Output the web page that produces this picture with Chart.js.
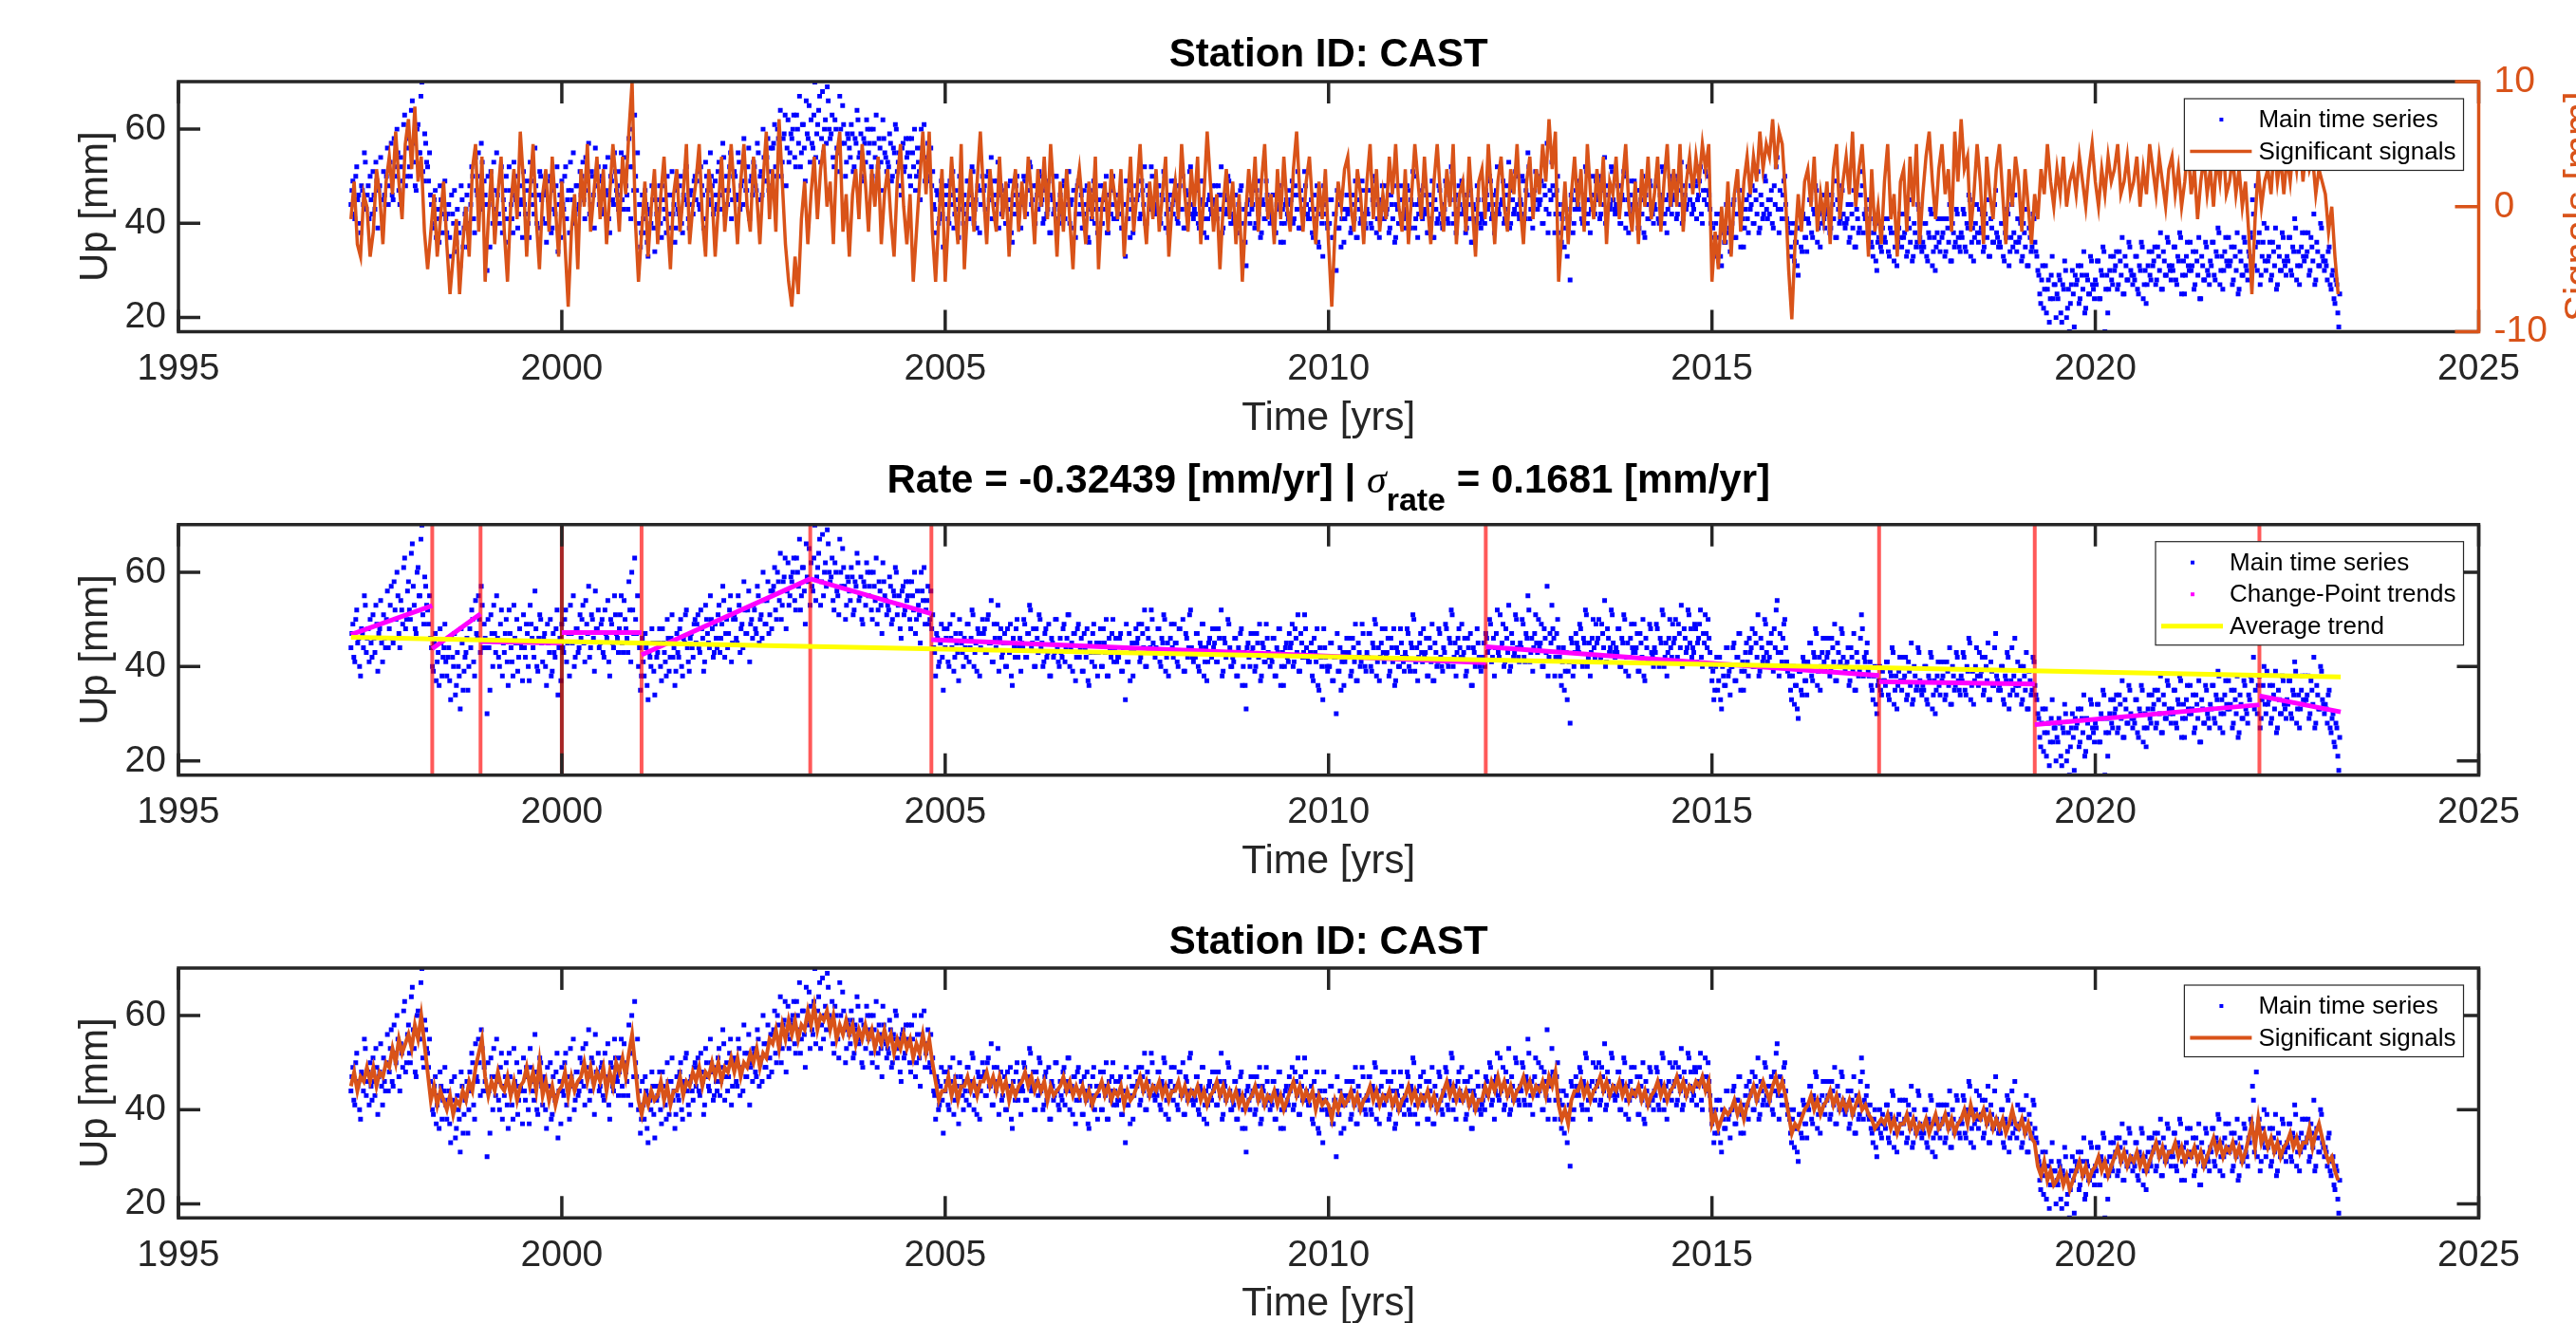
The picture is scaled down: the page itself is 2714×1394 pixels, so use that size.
<!DOCTYPE html>
<html>
<head>
<meta charset="utf-8">
<script src="https://cdn.jsdelivr.net/npm/chart.js@4.4.1/dist/chart.umd.min.js"></script>
<style>
html, body { margin: 0; padding: 0; background: #fff; overflow: hidden; }
canvas { position: absolute; left: 0; }
</style>
</head>
<body>
<canvas id="top" width="2714" height="470" style="top:0px"></canvas>
<canvas id="mid" width="2714" height="470" style="top:470px"></canvas>
<canvas id="bot" width="2714" height="454" style="top:940px"></canvas>
<script>
// ---- data ----
var xTicks = [1995, 2000, 2005, 2010, 2015, 2020, 2025];
var upTicks = [20, 40, 60];
var sigTicks = [-10, 0, 10];

// Up component, two interleaved sample sets of 40 per year starting 1997.25
var upStart = 1997.25, upStep = 0.025;
var upValues = [
  // 1997 (Q2-Q4)
  44,49,41,52,46,38,47,55,43,48, 50,42,46,53,39,48,45,51,44,56, 48,57,45,52,60,47,54,49,63,50,
  // 1998
  58,50,66,53,47,61,55,70,49,57, 52,55,44,39,47,41,36,45,42,49, 38,44,33,42,47,36,40,31,45,39, 43,35,48,52,41,54,46,50,57,44,
  // 1999
  46,30,44,51,40,47,55,42,49,38, 43,50,36,47,41,53,45,39,48,44, 51,42,47,37,49,44,56,40,46,50, 41,47,36,45,50,39,43,48,34,46,
  // 2000
  49,43,52,45,38,47,55,42,48,44, 46,53,41,49,57,44,50,39,48,52, 45,50,42,47,54,38,49,44,51,46, 48,55,43,50,46,58,41,52,63,47,
  // 2001
  40,35,46,38,44,33,42,48,39,45, 43,48,37,45,41,50,39,46,42,36, 47,42,50,38,45,52,41,46,44,49, 45,51,43,48,39,53,47,44,50,42,
  // 2002
  49,44,53,46,57,42,50,47,55,45, 51,46,55,43,49,58,47,52,41,50, 53,48,57,45,51,60,49,54,47,56, 56,61,50,58,64,53,59,48,62,55,
  // 2003
  58,63,52,60,67,55,61,49,59,65, 62,56,70,59,64,53,68,60,57,66, 58,63,52,60,55,67,57,61,50,59, 56,61,51,58,64,54,59,49,57,62,
  // 2004
  55,60,50,57,63,52,56,47,58,54, 53,59,49,56,61,51,55,46,57,52, 54,58,48,55,60,50,53,45,56,61, 52,57,50,48,44,38,46,41,49,35,
  // 2005
  44,48,40,46,51,42,45,37,47,43, 46,42,49,44,52,40,45,48,38,47, 47,43,50,45,54,41,46,49,39,48, 43,47,40,45,49,36,44,48,42,46,
  // 2006
  45,50,42,47,53,44,48,40,46,51, 44,40,47,42,49,38,45,43,50,41, 46,42,49,44,51,40,45,47,37,48, 42,46,39,44,48,36,43,47,40,45,
  // 2007
  43,48,40,45,50,38,44,47,41,46, 42,46,39,44,33,41,47,43,38,45, 45,49,42,47,52,40,46,44,50,43, 44,48,41,46,51,39,45,43,49,42,
  // 2008
  45,41,48,43,50,39,46,44,52,42, 43,47,40,45,49,38,44,41,46,42, 44,48,41,46,52,39,45,43,49,40, 42,46,38,44,47,36,43,31,45,40,
  // 2009
  43,47,40,45,49,38,44,41,46,42, 42,46,38,44,48,36,43,40,45,41, 44,49,41,46,51,39,45,43,48,42, 41,45,37,43,48,35,42,33,44,40,
  // 2010
  40,45,37,42,30,39,44,41,36,43, 42,46,39,44,49,37,43,41,47,40, 43,47,40,45,50,38,44,42,48,41, 42,46,39,44,48,37,43,40,45,41,
  // 2011
  43,48,40,45,51,39,44,42,47,41, 42,46,38,44,49,37,43,41,47,40, 44,49,41,46,52,40,45,43,48,42, 42,46,39,44,47,36,43,41,45,40,
  // 2012
  41,45,47,43,50,41,46,44,52,42, 44,49,41,46,53,40,45,43,50,42, 45,50,42,47,55,41,46,44,51,43, 44,49,40,46,57,42,45,48,38,47,
  // 2013
  44,38,41,35,43,39,28,45,40,47, 44,49,41,46,52,40,45,43,50,42, 45,50,42,47,54,41,46,44,51,43, 44,48,40,46,51,39,45,42,49,43,
  // 2014
  43,47,39,45,50,37,44,41,48,42, 44,49,41,46,52,40,45,43,50,42, 45,50,42,47,53,41,46,44,51,48, 44,49,41,46,52,40,45,47,50,43,
  // 2015
  37,33,40,35,42,31,38,36,44,39, 40,44,37,42,47,35,41,39,45,38, 43,48,40,45,51,39,44,42,49,41, 42,47,39,44,54,38,43,46,50,41,
  // 2016
  40,35,38,32,36,29,39,34,41,37, 41,45,38,43,48,36,42,40,46,39, 42,46,39,44,49,37,43,41,47,40, 40,44,37,42,47,35,41,39,51,38,
  // 2017
  41,45,38,36,33,40,30,37,35,39, 37,41,34,39,44,32,38,36,42,35, 37,42,34,39,45,33,38,36,43,35, 36,40,33,38,43,31,37,35,41,34,
  // 2018
  37,41,34,39,44,32,38,36,42,35, 38,43,35,40,46,33,39,37,44,36, 38,42,35,40,45,33,39,36,47,37, 36,40,33,38,43,31,37,35,46,34,
  // 2019
  36,40,33,38,43,31,37,35,41,34, 30,25,28,22,31,26,19,29,24,27, 25,29,21,27,32,20,26,23,30,18, 27,31,24,29,34,22,28,25,32,26,
  // 2020
  28,32,24,30,35,17,29,26,33,27, 30,34,27,32,37,25,31,28,35,29, 29,33,26,31,36,24,30,27,34,28, 31,35,28,33,38,26,32,29,36,30,
  // 2021
  31,35,28,33,38,25,32,29,36,30, 30,34,27,32,37,24,31,28,35,29, 32,36,29,34,39,27,33,30,37,31, 31,35,28,33,38,26,32,29,36,30,
  // 2022
  34,38,45,31,48,36,27,33,40,30, 32,36,29,34,39,27,33,30,37,31, 33,37,30,35,41,28,34,31,38,32, 33,38,30,35,42,28,34,31,39,32,
  // 2023
  32,28,35,26,30,23,27,18
];
var upStartB = 1997.2625;
var upValuesB = [
  // 1997
  47,42,50,45,40,48,44,53,46,41, 45,51,43,49,47,54,41,46,50,44, 53,46,58,50,55,44,52,61,48,56,
  // 1998
  52,64,57,48,60,55,67,51,59,53, 49,46,40,45,37,43,48,38,44,41, 42,37,46,40,34,43,38,48,35,42, 46,40,44,50,38,47,55,43,53,49,
  // 1999
  44,50,35,47,53,43,46,40,52,45, 47,41,52,44,38,46,50,42,45,37, 44,49,40,53,46,42,48,39,51,45, 46,40,49,43,38,47,42,52,44,37,
  // 2000
  44,50,41,47,53,45,40,48,43,51, 50,45,54,47,42,51,46,56,48,44, 49,43,52,46,41,50,45,55,47,43, 51,45,54,48,43,52,60,47,50,55,
  // 2001
  44,38,41,47,36,43,40,45,34,42, 45,40,48,43,38,46,42,51,44,39, 43,48,40,46,51,44,39,47,42,50, 49,44,52,46,41,50,45,55,48,43,
  // 2002
  46,51,43,49,54,47,44,52,41,50, 50,45,53,48,44,52,47,56,49,46, 52,47,55,50,46,54,49,58,51,48, 57,52,60,54,50,58,63,56,53,59,
  // 2003
  60,54,63,57,52,61,56,66,58,53, 57,63,54,61,67,58,55,62,69,60, 59,54,62,56,51,60,65,57,53,58, 54,59,52,57,62,55,50,58,53,60,
  // 2004
  57,52,60,54,49,58,53,62,55,51, 52,57,50,55,60,53,48,56,51,58, 55,50,58,52,47,56,51,60,54,49, 54,49,56,51,43,47,40,45,42,48,
  // 2005
  46,41,49,44,39,47,43,50,45,40, 44,49,41,46,51,43,39,47,44,50, 48,43,51,45,41,49,44,53,46,42, 45,40,48,43,38,46,42,50,44,39,
  // 2006
  44,49,42,47,52,45,40,48,43,50, 45,41,48,43,38,46,42,50,44,40, 43,48,41,46,51,44,39,47,42,49, 44,39,47,42,37,45,41,49,43,38,
  // 2007
  45,40,48,43,38,46,42,50,44,41, 42,47,39,44,49,41,37,45,43,48, 46,41,49,44,40,48,43,52,45,42, 43,48,40,45,50,42,38,46,44,49,
  // 2008
  45,40,48,43,39,47,42,51,44,41, 42,47,39,44,49,41,37,45,43,48, 45,41,48,43,38,46,42,50,44,40, 41,46,38,43,48,40,36,44,42,47,
  // 2009
  44,39,47,42,37,45,41,49,43,40, 41,46,38,43,48,40,36,44,42,47, 45,40,48,43,39,47,42,51,44,41, 43,38,46,41,36,44,40,48,42,39,
  // 2010
  40,45,37,42,47,39,35,43,41,46, 43,38,46,41,37,45,40,49,42,39, 42,47,39,44,49,41,37,45,43,48, 43,38,46,41,36,44,40,48,42,39,
  // 2011
  42,47,39,44,50,41,37,45,43,48, 43,38,46,41,37,45,40,48,42,39, 43,48,40,45,51,42,38,46,44,49, 43,38,46,41,36,44,40,48,42,39,
  // 2012
  42,40,46,44,49,42,38,47,43,51, 45,40,48,43,39,47,42,51,44,41, 44,49,41,46,52,43,39,47,45,50, 45,40,48,43,38,47,53,46,42,50,
  // 2013
  42,36,44,39,33,41,46,38,43,45, 43,48,40,45,51,42,38,46,44,49, 46,41,49,44,40,48,43,52,45,42, 43,48,40,45,50,42,38,46,44,49,
  // 2014
  44,39,47,42,38,46,41,49,43,40, 43,48,40,45,51,42,38,46,44,49, 46,41,49,44,40,48,43,52,45,42, 43,48,45,49,42,47,51,44,46,40,
  // 2015
  39,35,42,37,33,40,36,44,38,34, 40,45,37,42,47,39,35,43,41,46, 44,40,47,42,38,46,41,50,43,45, 45,40,48,52,43,47,41,49,44,39,
  // 2016
  38,33,40,36,31,39,35,42,37,34, 40,45,37,42,47,39,35,43,41,46, 43,38,46,41,37,45,40,48,42,39, 41,36,44,39,35,43,38,46,48,42,
  // 2017
  43,39,41,35,38,32,36,40,34,37, 36,41,33,38,43,35,31,39,37,42, 38,33,41,36,32,40,35,44,37,34, 35,40,32,37,42,34,30,38,36,41,
  // 2018
  38,33,41,36,32,40,35,43,37,34, 37,42,34,39,45,36,32,40,38,43, 39,34,42,37,33,41,36,44,38,35, 35,40,32,37,42,34,44,38,36,41,
  // 2019
  37,32,40,35,31,39,34,42,36,33, 29,23,31,26,21,28,24,33,27,20, 24,28,19,26,30,22,17,27,25,29, 28,23,31,26,21,29,25,33,27,24,
  // 2020
  27,32,24,29,34,26,21,30,28,33, 31,26,34,29,25,33,28,36,30,27, 28,33,25,30,35,27,23,31,29,34, 32,27,35,30,26,34,29,37,31,28,
  // 2021
  30,35,27,32,37,29,25,33,31,36, 31,26,34,29,24,33,28,36,30,27, 31,36,28,33,38,30,26,34,32,37, 32,27,35,30,25,34,29,37,31,28,
  // 2022
  33,37,42,35,30,38,29,36,32,39, 33,28,36,31,26,35,30,38,32,29, 32,37,29,34,39,31,27,35,33,38, 34,29,37,32,27,36,31,40,33,30,
  // 2023
  31,34,27,29,24,28,21,25
];

// significant signals (right axis) and bottom fitted signal, 24 samples per year from 1997.25
var sigStart = 1997.25, sigStep = 1 / 24;
var signalValues = [
  -1,2,-3,-4,1,0, -4,-2,3,1,-3,2, 4,1,6,2,-1,5,
  7,3,8,2,4,-2, -5,-2,1,-4,-1,2, -3,-7,-4,-1,-7,-3, 0,-4,3,5,-2,4,
  -6,-1,3,-3,1,4, -2,-6,0,3,-1,6, 2,-4,1,5,-1,-5, 1,3,-2,4,0,-4,
  2,-3,-8,-2,1,-5, 3,0,5,-2,1,4, -1,3,-3,1,5,2, -2,4,1,6,10,-1,
  -6,-2,2,-4,0,3, -3,1,4,-1,-5,1, 3,-2,1,5,-3,0, 2,5,-1,-4,3,1,
  -4,0,4,-2,1,5, 1,-3,2,5,0,-2, 4,1,-3,2,6,-1, 3,-2,7,2,-3,-6,
  -8,-4,-7,-1,2,-3, 1,4,-1,3,5,0, 2,-3,4,6,-2,1, -4,1,3,-1,5,2,
  -2,3,0,4,-3,1, 3,-1,-4,2,5,0, -3,1,-6,-2,2,6, 1,6,-2,-6,-1,3,
  -6,-1,4,0,-3,5, -5,0,3,-2,2,6, 1,-3,3,0,-2,4, -1,2,-4,1,3,-2,
  2,-1,4,1,-3,3, 0,4,-1,5,1,-4, 2,-2,3,-1,-5,1, 3,0,-3,2,-1,4,
  -5,0,2,-2,3,1, -1,3,-4,0,4,-2, 1,5,0,-3,2,-1, 3,-2,1,4,-4,0,
  2,-1,5,1,-2,3, 0,4,-3,1,6,2, -2,1,-5,0,3,-1, 2,-3,1,-6,-1,3,
  0,4,-2,2,5,-1, 1,-3,3,-1,4,0, -2,3,6,1,-2,2, 4,0,-3,2,-1,3,
  -3,-8,-2,2,0,3, 4,0,-2,3,1,-3, 2,5,-1,3,-2,1, -1,4,1,5,0,-2,
  3,-3,1,5,2,-1, 4,0,-3,2,5,1, -2,3,0,5,-3,1, 2,-2,4,0,-4,2,
  3,-1,5,1,-3,2, 4,0,-2,3,1,5, 0,-3,2,4,-1,3, 1,5,2,7,3,6,
  -6,-2,2,-3,1,4, 0,3,-2,5,1,-1, 3,0,4,-3,2,1, 4,-1,2,5,0,-2,
  2,-3,3,0,4,-1, 1,4,-2,2,5,0, 3,0,5,-2,2,4, 1,4,2,5,3,5,
  -6,-2,-5,0,-3,2, -4,1,3,-2,2,4, 1,4,2,6,3,5, 4,7,3,6,5,1,
  -5,-9,-3,1,-2,2, 3,0,4,-2,1,-1, 2,-3,3,5,-1,2, 4,1,6,0,3,5,
  1,-4,3,-2,0,-3, 2,5,-1,1,-4,2, 3,-2,4,0,5,-3, 1,4,6,2,-1,3,
  5,1,3,-2,6,2, 7,3,4,-2,1,5, 2,-3,4,1,-1,3, 5,1,-3,3,0,4,
  2,-2,3,0,-3,1, -1,3,1,5,2,0, 3,1,4,0,2,3, 1,4,2,0,3,5,
  2,0,3,1,4,2, 3,5,1,2,4,1, 2,4,0,3,1,5, 3,1,4,2,0,3,
  4,1,3,0,2,5, 1,3,-1,2,4,1, 3,0,4,2,5,1, 2,4,1,3,0,2,
  -2,-7,-1,3,0,2, 3,1,5,2,4,1, 4,2,5,3,6,2, 5,3,4,1,3,2,
  1,-2,0,-4,-7
];
var fitValues = [
  45,48,44,47,46,49, 46,49,45,48,47,50, 49,53,50,55,52,54,
  56,53,58,55,60,54, 48,42,45,41,44,42, 40,43,39,42,41,44, 42,46,44,49,52,55,
  47,43,46,44,48,45, 44,47,43,46,42,45, 46,49,45,48,44,50, 43,46,42,45,41,44,
  45,48,43,47,44,46, 47,50,46,49,45,48, 46,49,44,48,45,50, 48,51,47,52,56,49,
  42,39,43,41,44,42, 43,46,42,45,41,44, 44,47,43,46,45,48, 46,49,45,48,47,50,
  47,50,46,49,48,51, 48,51,47,50,49,52, 50,53,49,52,51,55, 54,57,53,58,55,59,
  56,59,55,58,57,61, 58,62,57,60,59,61, 57,60,55,58,56,59, 56,58,54,57,55,58,
  55,57,53,56,54,57, 54,56,52,55,53,56, 53,55,51,54,52,56, 52,55,50,46,42,44,
  44,47,43,46,42,45, 45,47,44,46,43,46, 46,48,45,47,44,47, 44,46,42,45,43,45,
  46,48,45,47,44,46, 44,46,42,45,43,44, 45,47,44,46,43,45, 43,45,42,44,41,43,
  44,46,43,45,42,44, 43,45,41,44,42,43, 45,47,44,46,43,45, 44,46,43,45,42,44,
  44,46,43,45,42,44, 43,45,42,44,41,43, 44,46,43,45,42,44, 42,44,41,43,40,42,
  43,45,42,44,41,43, 42,44,41,43,40,42, 44,46,43,45,42,44, 42,44,40,43,41,42,
  41,38,42,40,43,41, 42,44,41,43,40,42, 43,45,42,44,41,43, 42,44,41,43,40,42,
  43,45,42,44,41,43, 42,44,41,43,40,42, 44,46,43,45,42,44, 42,44,41,43,40,42,
  42,45,43,46,44,47, 44,46,43,45,42,44, 45,47,44,46,43,45, 44,46,43,47,45,48,
  41,38,40,37,42,44, 44,46,43,45,42,44, 45,47,44,46,43,45, 44,46,43,45,42,44,
  43,45,42,44,41,43, 44,46,43,45,42,44, 45,47,44,46,43,45, 44,46,45,47,44,46,
  37,39,36,38,40,39, 40,42,39,41,38,41, 43,45,42,44,46,44, 42,45,47,44,46,43,
  39,35,37,36,38,40, 41,43,40,42,39,41, 42,44,41,43,40,42, 40,42,39,41,43,40,
  41,39,38,36,37,38, 37,39,36,38,35,37, 37,39,36,38,35,37, 36,38,35,37,39,36,
  37,39,36,38,35,37, 38,40,37,41,38,39, 38,40,37,39,36,38, 36,38,35,37,40,37,
  36,38,35,37,34,33, 28,26,29,25,27,24, 25,27,24,26,23,25, 27,29,26,28,25,27,
  28,30,27,29,26,28, 30,32,29,31,28,30, 29,31,28,30,27,29, 31,33,30,32,29,31,
  31,33,30,32,29,31, 30,32,29,31,28,30, 32,34,31,33,30,32, 31,33,30,32,29,31,
  34,37,32,38,33,35, 32,34,31,33,30,32, 33,35,32,34,31,33, 33,36,32,35,37,34,
  31,29,30,27,25
];

// change-point model (middle panel)
var breakYears = [1998.31, 1998.94, 2001.04, 2003.24, 2004.82, 2012.05, 2017.18, 2019.21, 2022.14];
var knownBreakYears = [2000.0];
var cpBounds = [1997.25, 1998.31, 1998.94, 2000.0, 2001.04, 2003.24, 2004.82, 2012.05, 2017.18, 2019.21, 2022.14, 2023.2];
var cpFrom = [46.8, 43.8, 45.3, 47.2, 42.5, 58.6, 45.7, 44.2, 36.8, 27.7, 33.8];
var cpTo   = [52.9, 51.2, 45.0, 47.2, 58.6, 51.2, 40.8, 38.1, 36.3, 31.9, 30.4];
var avgYears = [1997.25, 2023.2];
var avgValues = [46.2, 37.8];

var upMin = 17, upMax = 70.1;

// ---- helpers ----
var BLUE = '#0000ff', ORANGE = '#d95319', DARK = '#262626';
var FONT = '"Liberation Sans", Arial, Helvetica, sans-serif';
Chart.defaults.font.family = FONT;

function series(start, step, vals) {
  return vals.map(function (v, i) { return { x: start + i * step, y: v }; });
}
function vlines(years) {
  var d = [];
  years.forEach(function (yr) {
    d.push({ x: yr, y: upMin }, { x: yr, y: upMax }, { x: yr, y: null });
  });
  return d;
}
function cpSegments() {
  var d = [];
  for (var i = 0; i < cpFrom.length; i++) {
    d.push({ x: cpBounds[i], y: cpFrom[i] }, { x: cpBounds[i + 1], y: cpTo[i] }, { x: cpBounds[i + 1], y: null });
  }
  return d;
}

var boldT = 'bold 42px ' + FONT;
var decor = {
  top: { title: [{ text: 'Station ID: CAST', font: boldT }], titleY: 70, rightLabel: 'Signals [mm]' },
  mid: {
    title: [
      { text: 'Rate = -0.32439 [mm/yr] | ', font: boldT },
      { text: '\u03c3', font: 'italic 42px "Liberation Serif", serif' },
      { text: 'rate', font: 'bold 34px ' + FONT, dy: 19 },
      { text: ' = 0.1681 [mm/yr]', font: boldT }
    ], titleY: 49
  },
  bot: { title: [{ text: 'Station ID: CAST', font: boldT }], titleY: 65 }
};

var matlabPlugin = {
  id: 'matlab',
  afterDraw: function (chart) {
    var d = decor[chart.canvas.id];
    var ctx = chart.ctx, a = chart.chartArea;
    var sx = chart.scales.x, sy = chart.scales.y, sr = chart.scales.y1;
    var tl = 23;
    ctx.save();
    ctx.lineWidth = 3.5;
    ctx.strokeStyle = DARK;
    ctx.beginPath();
    sx.ticks.forEach(function (t) {
      var p = sx.getPixelForValue(t.value);
      ctx.moveTo(p, a.bottom); ctx.lineTo(p, a.bottom - tl);
      ctx.moveTo(p, a.top); ctx.lineTo(p, a.top + tl);
    });
    sy.ticks.forEach(function (t) {
      var p = sy.getPixelForValue(t.value);
      ctx.moveTo(a.left, p); ctx.lineTo(a.left + tl, p);
      if (!sr) { ctx.moveTo(a.right, p); ctx.lineTo(a.right - tl, p); }
    });
    ctx.stroke();

    ctx.lineJoin = 'miter';
    ctx.beginPath();
    if (sr) {
      ctx.moveTo(a.right, a.top); ctx.lineTo(a.left, a.top);
      ctx.lineTo(a.left, a.bottom); ctx.lineTo(a.right, a.bottom);
    } else {
      ctx.rect(a.left, a.top, a.right - a.left, a.bottom - a.top);
    }
    ctx.stroke();

    if (sr) {
      ctx.strokeStyle = ORANGE;
      ctx.beginPath();
      ctx.moveTo(a.right, a.top - 1.75); ctx.lineTo(a.right, a.bottom + 1.75);
      sr.ticks.forEach(function (t) {
        var p = sr.getPixelForValue(t.value);
        ctx.moveTo(a.right, p); ctx.lineTo(a.right - tl - 2, p);
      });
      ctx.stroke();
      ctx.save();
      ctx.translate(2731, (a.top + a.bottom) / 2);
      ctx.rotate(-Math.PI / 2);
      ctx.font = '42px ' + FONT;
      ctx.fillStyle = ORANGE;
      ctx.textAlign = 'center';
      ctx.textBaseline = 'alphabetic';
      ctx.fillText(d.rightLabel, 0, 0);
      ctx.restore();
    }

    // legend box
    var items = chart.data.datasets.filter(function (ds) { return ds.legendRank; })
      .sort(function (p, q) { return p.legendRank - q.legendRank; });
    ctx.font = '26px ' + FONT;
    var maxW = 0;
    items.forEach(function (it) { maxW = Math.max(maxW, ctx.measureText(it.label).width); });
    var right = a.right - 16, left = right - (78 + maxW + 8);
    var topY = a.top + 18, rowH = 33.5;
    var bottomY = topY + 22 + (items.length - 1) * rowH + 20;
    ctx.fillStyle = '#fff';
    ctx.fillRect(left, topY, right - left, bottomY - topY);
    ctx.lineWidth = 1.2;
    ctx.strokeStyle = DARK;
    ctx.strokeRect(left, topY, right - left, bottomY - topY);
    items.forEach(function (it, i) {
      var y = topY + 22 + i * rowH;
      if (it.legendKind === 'dot') {
        ctx.fillStyle = it.backgroundColor;
        ctx.fillRect(left + 37, y - 2, 4, 4);
      } else {
        ctx.strokeStyle = it.borderColor;
        ctx.lineWidth = it.borderWidth;
        ctx.beginPath(); ctx.moveTo(left + 6, y); ctx.lineTo(left + 71, y); ctx.stroke();
      }
      ctx.fillStyle = '#000';
      ctx.textAlign = 'left';
      ctx.textBaseline = 'middle';
      ctx.fillText(it.label, left + 78, y + 1);
    });

    // title
    var cx = (a.left + a.right) / 2, widths = [], total = 0;
    d.title.forEach(function (p) { ctx.font = p.font; var w = ctx.measureText(p.text).width; widths.push(w); total += w; });
    var x = cx - total / 2;
    ctx.fillStyle = '#000';
    ctx.textAlign = 'left';
    ctx.textBaseline = 'alphabetic';
    d.title.forEach(function (p, i) {
      ctx.font = p.font;
      ctx.fillText(p.text, x, d.titleY + (p.dy || 0));
      x += widths[i];
    });
    ctx.restore();
  }
};

function xScale(h, titlePad) {
  return {
    type: 'linear', min: 1995, max: 2025,
    grid: { display: false, drawTicks: false }, border: { display: false },
    afterBuildTicks: function (s) { s.ticks = xTicks.map(function (v) { return { value: v }; }); },
    afterFit: function (s) { s.height = h; },
    ticks: { autoSkip: false, maxRotation: 0, padding: 20, color: DARK, font: { size: 39, lineHeight: 1 },
      callback: function (v) { return String(v); } },
    title: { display: true, text: 'Time [yrs]', color: DARK, font: { size: 42, lineHeight: 1 }, padding: { top: 0, bottom: titlePad } }
  };
}
function yScale() {
  return {
    type: 'linear', position: 'left', min: upMin, max: upMax,
    grid: { display: false, drawTicks: false }, border: { display: false },
    afterBuildTicks: function (s) { s.ticks = upTicks.map(function (v) { return { value: v }; }); },
    afterFit: function (s) { s.width = 188; },
    ticks: { padding: 13, color: DARK, font: { size: 39, lineHeight: 1 } },
    title: { display: true, text: 'Up [mm]', color: DARK, font: { size: 42, lineHeight: 1 }, padding: { top: 80, bottom: 0 } }
  };
}
function blueSet(order) {
  return { label: 'Main time series',
    data: series(upStart, upStep, upValues).concat(series(upStartB, upStep, upValuesB)), showLine: false,
    pointStyle: 'rect', pointRadius: 3.5, pointBorderWidth: 0, backgroundColor: BLUE, borderColor: BLUE,
    legendKind: 'dot', legendRank: 1, order: order };
}
function baseOptions(padTop, padRight, scales) {
  return {
    responsive: false, animation: false, devicePixelRatio: 1, events: [],
    layout: { padding: { top: padTop, right: padRight, left: 0, bottom: 0 } },
    plugins: { legend: { display: false }, tooltip: { enabled: false }, title: { display: false } },
    scales: scales
  };
}

// top panel
var topScales = { x: xScale(120.5, 8), y: yScale() };
topScales.y1 = {
  type: 'linear', position: 'right', min: -10, max: 10,
  grid: { display: false, drawTicks: false }, border: { display: false },
  afterBuildTicks: function (s) { s.ticks = sigTicks.map(function (v) { return { value: v }; }); },
  afterFit: function (s) { s.width = 102.5; },
  ticks: { padding: 16, color: ORANGE, font: { size: 39, lineHeight: 1 } }
};
new Chart('top', {
  type: 'line',
  data: { datasets: [
    { label: 'Significant signals', data: series(sigStart, sigStep, signalValues), yAxisID: 'y1',
      borderColor: ORANGE, borderWidth: 3.5, pointRadius: 0, fill: false, legendKind: 'line', legendRank: 2, order: 1 },
    blueSet(2)
  ] },
  options: baseOptions(86, 0, topScales),
  plugins: [matlabPlugin]
});

// middle panel
new Chart('mid', {
  type: 'line',
  data: { datasets: [
    { label: 'Average trend', data: avgYears.map(function (t, i) { return { x: t, y: avgValues[i] }; }),
      borderColor: '#ffff00', borderWidth: 5, pointRadius: 0, fill: false, legendKind: 'line', legendRank: 3, order: 1 },
    { label: 'Change-Point trends', data: cpSegments(), borderColor: '#ff00ff', backgroundColor: '#ff00ff',
      borderWidth: 5, pointRadius: 0, fill: false, spanGaps: false, legendKind: 'dot', legendRank: 2, order: 2 },
    { label: 'breaks', data: vlines(breakYears), borderColor: 'rgba(255,0,0,0.65)', borderWidth: 4,
      pointRadius: 0, fill: false, spanGaps: false, order: 3 },
    { label: 'known breaks', data: vlines(knownBreakYears), borderColor: 'rgba(150,0,0,0.85)', borderWidth: 4,
      pointRadius: 0, fill: false, spanGaps: false, order: 3 },
    blueSet(4)
  ] },
  options: baseOptions(82.7, 102.5, { x: xScale(123.3, 11), y: yScale() }),
  plugins: [matlabPlugin]
});

// bottom panel
new Chart('bot', {
  type: 'line',
  data: { datasets: [
    { label: 'Significant signals', data: series(sigStart, sigStep, fitValues),
      borderColor: ORANGE, borderWidth: 4, pointRadius: 0, fill: false, legendKind: 'line', legendRank: 2, order: 1 },
    blueSet(2)
  ] },
  options: baseOptions(80, 102.5, { x: xScale(110.7, -1), y: yScale() }),
  plugins: [matlabPlugin]
});
</script>
</body>
</html>
